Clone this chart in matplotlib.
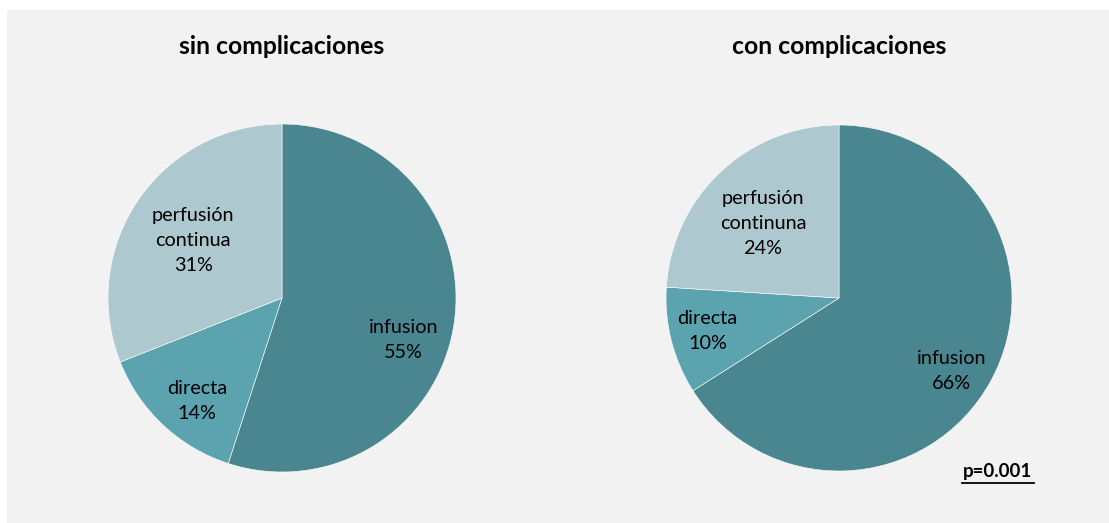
import matplotlib.pyplot as plt
from matplotlib.patches import Rectangle

plt.rcParams['font.family'] = ['Lato', 'DejaVu Sans']

categories = ['infusion', 'directa', 'perfusión continua']
sin_values = [55, 14, 31]
con_labels = ['infusion', 'directa', 'perfusión\ncontinuna']
con_values = [66, 10, 24]
colors = ['#4a868f', '#5ba3af', '#aec8cf']

W, H = 1109, 523
fig = plt.figure(figsize=(W / 100, H / 100), dpi=100)
fig.patch.set_facecolor('white')
fig.patches.append(Rectangle((7 / W, 0), 1 - 7 / W, 1 - 10 / H,
                             transform=fig.transFigure, facecolor='#f2f2f2',
                             edgecolor='none', zorder=-5))


def draw_pie(cx, cy, r, values, labels, offsets, title):
    ax = fig.add_axes([(cx - r) / W, (H - cy - r) / H, 2 * r / W, 2 * r / H])
    ax.pie(values, colors=colors, startangle=90, counterclock=False,
           radius=1, wedgeprops=dict(edgecolor='white', linewidth=0.4))
    ax.set_xlim(-1, 1)
    ax.set_ylim(-1, 1)
    ax.set_aspect('auto')
    for v, lab, (dx, dy) in zip(values, labels, offsets):
        ax.text(dx, dy, '%s\n%d%%' % (lab, v), ha='center', va='center',
                fontsize=14.3, color='black', linespacing=1.55)
    ax.axis('off')
    fig.text(cx / W, 1 - 47 / H, title, ha='center', va='center',
             fontsize=17.8, fontweight='bold')


# label offsets in units of the pie radius
draw_pie(282, 298, 174, sin_values,
         ['infusion', 'directa', 'perfusión\ncontinua'],
         [(0.70, -0.24), (-0.49, -0.59), (-0.51, 0.33)],
         'sin complicaciones')
draw_pie(839, 298, 173, con_values, con_labels,
         [(0.65, -0.42), (-0.76, -0.19), (-0.44, 0.43)],
         'con complicaciones')

fig.text(998 / W, 1 - 472 / H, 'p=0.001', ha='center', va='center',
         fontsize=13.5, fontweight='bold')
fig.add_artist(plt.Line2D([962 / W, 1034 / W], [1 - 483 / H, 1 - 483 / H],
                          color='black', linewidth=1.3))

fig.savefig('out.png', dpi=100)
